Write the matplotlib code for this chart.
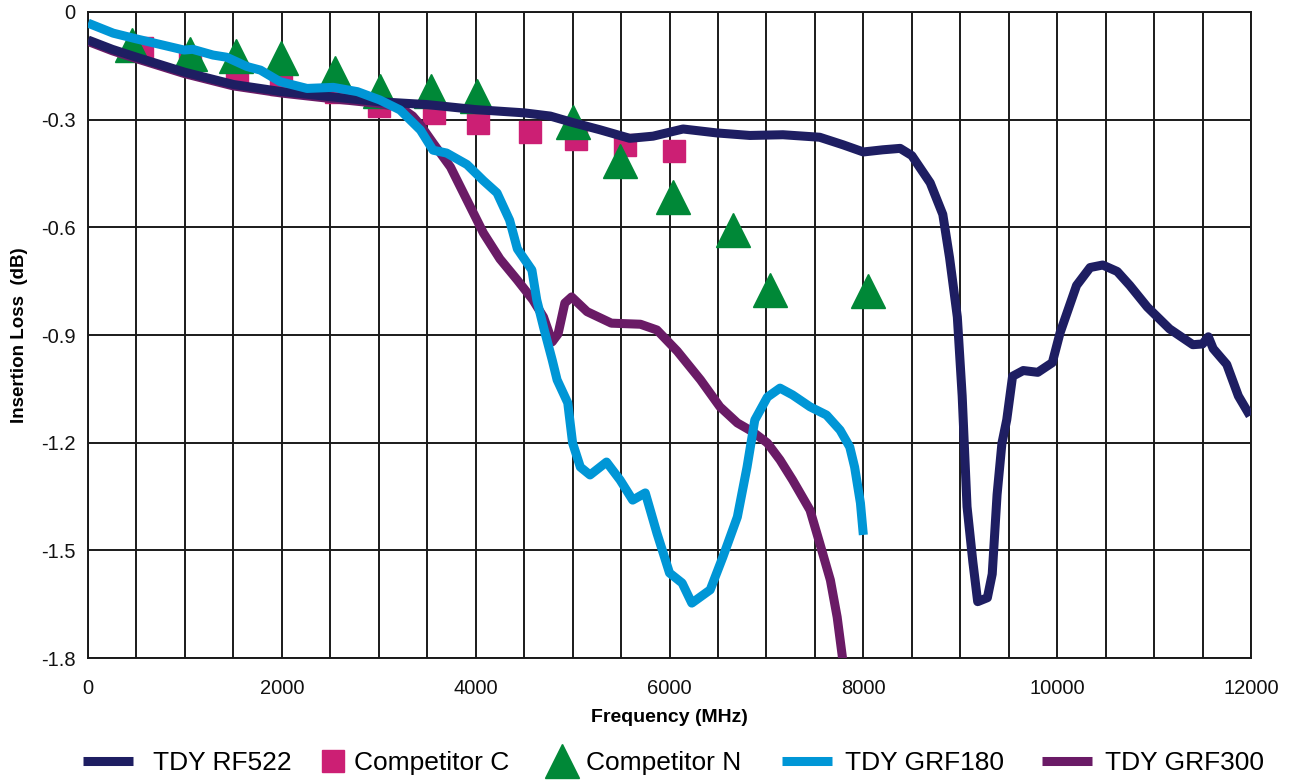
import matplotlib
matplotlib.use('Agg')
import matplotlib.pyplot as plt
from matplotlib.ticker import MultipleLocator

plt.rcParams['font.family'] = ['Liberation Sans', 'DejaVu Sans']

# --- Data ---

# TDY RF522 (navy)
rf522_freq = [0, 250, 500, 1000, 1500, 2000, 2500, 3000, 3250, 3500, 4000, 4500,
              4770, 5000, 5280, 5590, 5830, 6140, 6490, 6830, 7170, 7550, 7790,
              8000, 8200, 8380, 8500, 8690, 8820, 8890, 8970, 9020, 9070, 9130,
              9180, 9280, 9330, 9380, 9430, 9480, 9540, 9650, 9800, 9950, 10030,
              10200, 10340, 10470, 10620, 10750, 10930, 11160, 11400, 11500,
              11560, 11610, 11750, 11870, 11990]
rf522_loss = [-0.078, -0.104, -0.126, -0.168, -0.202, -0.222, -0.236, -0.250,
              -0.254, -0.258, -0.272, -0.281, -0.290, -0.308, -0.328, -0.352,
              -0.346, -0.326, -0.337, -0.344, -0.342, -0.349, -0.370, -0.390,
              -0.384, -0.380, -0.400, -0.476, -0.564, -0.685, -0.850, -1.070,
              -1.378, -1.532, -1.643, -1.632, -1.566, -1.345, -1.202, -1.136,
              -1.015, -0.999, -1.004, -0.977, -0.894, -0.762, -0.712, -0.705,
              -0.723, -0.762, -0.822, -0.883, -0.927, -0.925, -0.905, -0.938,
              -0.982, -1.070, -1.125]

# Competitor C (squares)
comp_c_freq = [560, 1050, 1540, 1990, 2560, 3000, 3570, 4020, 4560, 5040, 5540, 6050]
comp_c_loss = [-0.100, -0.137, -0.170, -0.201, -0.223, -0.262, -0.281, -0.309,
               -0.334, -0.354, -0.371, -0.387]

# Competitor N (triangles)
comp_n_freq = [450, 1050, 1530, 1990, 2550, 3010, 3540, 4010, 5000, 5490, 6040,
               6660, 7040, 8050]
comp_n_loss = [-0.093, -0.116, -0.122, -0.128, -0.170, -0.220, -0.220, -0.234,
               -0.306, -0.416, -0.515, -0.607, -0.775, -0.778]

# TDY GRF180 (light blue)
grf180_freq = [0, 260, 500, 990, 1080, 1290, 1430, 1640, 1780, 1980, 2260, 2530,
               2780, 3010, 3220, 3430, 3560, 3700, 3910, 4080, 4220, 4350, 4430,
               4580, 4630, 4700, 4790, 4840, 4950, 5000, 5080, 5180, 5350, 5490,
               5620, 5750, 5870, 6000, 6130, 6230, 6420, 6550, 6700, 6800, 6880,
               7010, 7140, 7270, 7450, 7620, 7760, 7860, 7910, 7970, 8000]
grf180_loss = [-0.031, -0.059, -0.075, -0.106, -0.104, -0.120, -0.126, -0.152,
               -0.162, -0.194, -0.213, -0.210, -0.222, -0.245, -0.273, -0.329,
               -0.385, -0.393, -0.425, -0.470, -0.504, -0.580, -0.660, -0.719,
               -0.802, -0.878, -0.970, -1.025, -1.089, -1.201, -1.268, -1.290,
               -1.254, -1.304, -1.360, -1.340, -1.452, -1.563, -1.591, -1.647,
               -1.610, -1.519, -1.407, -1.268, -1.137, -1.073, -1.048, -1.067,
               -1.100, -1.123, -1.165, -1.212, -1.268, -1.368, -1.457]

# TDY GRF300 (purple)
grf300_freq = [0, 250, 500, 1000, 1500, 2000, 2500, 3000, 3220, 3350, 3430, 3560,
               3740, 3910, 4080, 4250, 4430, 4590, 4700, 4790, 4850, 4920, 4990,
               5150, 5400, 5700, 5870, 6080, 6320, 6520, 6700, 6860, 7010, 7140,
               7270, 7450, 7550, 7660, 7730, 7790]
grf300_loss = [-0.082, -0.108, -0.130, -0.172, -0.206, -0.226, -0.241, -0.255,
               -0.265, -0.290, -0.315, -0.365, -0.432, -0.524, -0.616, -0.688,
               -0.747, -0.802, -0.850, -0.919, -0.897, -0.811, -0.794, -0.835,
               -0.867, -0.870, -0.886, -0.945, -1.025, -1.100, -1.145, -1.170,
               -1.201, -1.248, -1.304, -1.388, -1.480, -1.583, -1.686, -1.810]

y_ticks = [0, -0.3, -0.6, -0.9, -1.2, -1.5, -1.8]
y_tick_labels = ['0', '-0.3', '-0.6', '-0.9', '-1.2', '-1.5', '-1.8']
x_ticks = [0, 2000, 4000, 6000, 8000, 10000, 12000]

# --- Plot ---
fig = plt.figure(figsize=(12.89, 7.84), dpi=100)
ax = fig.add_axes([0.0683, 0.1607, 0.9022, 0.8240])

line_kw = dict(linewidth=6.5, solid_capstyle='butt', solid_joinstyle='round')

ax.plot(comp_c_freq, comp_c_loss, linestyle='none', marker='s', markersize=16,
        color='#CC1F74', label='Competitor C', zorder=3)
ax.plot(comp_n_freq, comp_n_loss, linestyle='none', marker='^', markersize=24,
        color='#008837', label='Competitor N', zorder=4)
ax.plot(grf300_freq, grf300_loss, color='#6A1B66', label='TDY GRF300', zorder=5, **line_kw)
ax.plot(rf522_freq, rf522_loss, color='#1E1E62', label='TDY RF522', zorder=6, **line_kw)
ax.plot(grf180_freq, grf180_loss, color='#0096D6', label='TDY GRF180', zorder=7, **line_kw)

ax.set_xlim(0, 12000)
ax.set_ylim(-1.8, 0)
ax.set_xticks(x_ticks)
ax.xaxis.set_minor_locator(MultipleLocator(500))
ax.set_yticks(y_ticks)
ax.set_yticklabels(y_tick_labels)
ax.tick_params(which='both', length=0, labelsize=14.5, colors='#111111')
ax.tick_params(axis='x', pad=15)
ax.tick_params(axis='y', pad=9)

# Grid lines every 500 MHz and every 0.3 dB
ax.set_axisbelow(True)
ax.grid(True, which='both', color='#1a1a1a', linewidth=1.4)
for spine in ax.spines.values():
    spine.set_color('#1a1a1a')
    spine.set_linewidth(1.4)

ax.set_xlabel('Frequency (MHz)', fontsize=14, fontweight='bold', labelpad=8)
ax.set_ylabel('Insertion Loss  (dB)', fontsize=13.5, fontweight='bold', labelpad=9)

# Legend along the bottom, one entry at a time so spacing follows the reference
handles, labels = ax.get_legend_handles_labels()
legend_names = ['TDY RF522', 'Competitor C', 'Competitor N', 'TDY GRF180', 'TDY GRF300']
legend_left = [83, 320, 546, 782, 1042]          # pixel x of each handle box
legend_hlen = [1.9, 1.0, 1.2, 1.9, 1.9]
legend_pad = [0.75, 0.3, 0.3, 0.5, 0.5]
for name, left, hlen, pad in zip(legend_names, legend_left, legend_hlen, legend_pad):
    fig.legend([handles[labels.index(name)]], [name], loc='center left',
               bbox_to_anchor=(left / 1289, 1 - 763 / 784), frameon=False,
               fontsize=19, handlelength=hlen, handletextpad=pad,
               borderpad=0, borderaxespad=0)

plt.savefig('out.png', dpi=100)
